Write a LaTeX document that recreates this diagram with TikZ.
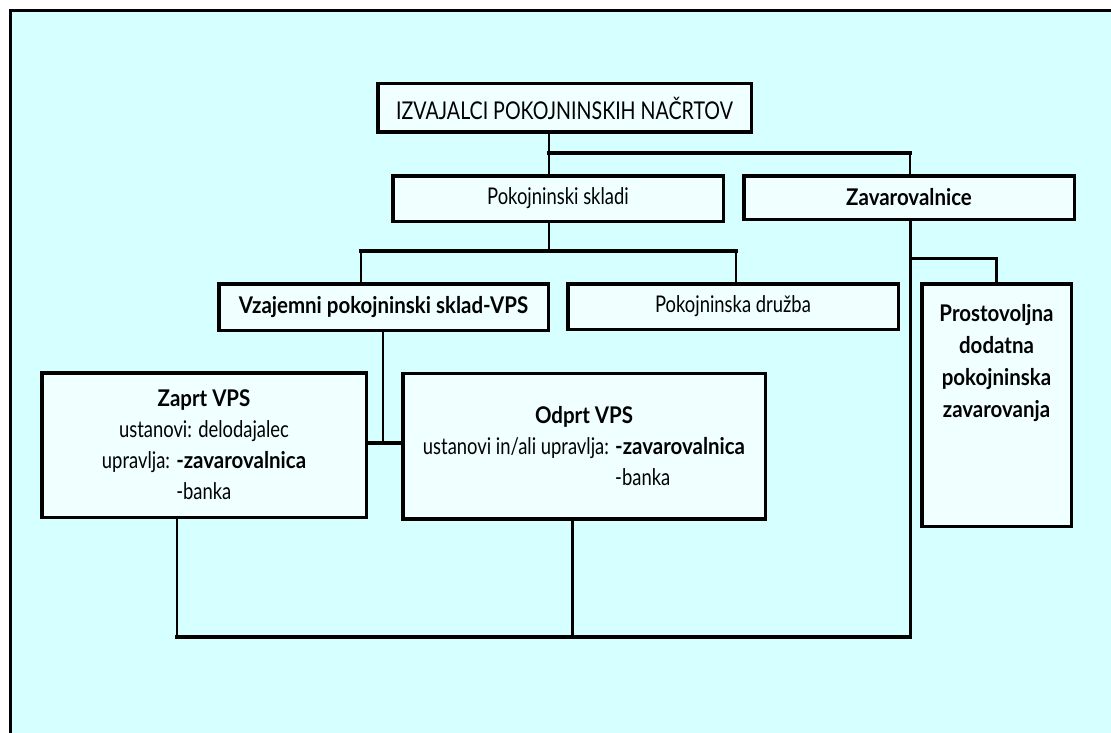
\documentclass[tikz,border=0pt]{standalone}
\usepackage{fontspec}
\setmainfont{Lato}[FakeStretch=0.8]
\newfontfamily\bfam{Lato}[FakeStretch=0.89]
\newcommand{\bsf}{\bfam\bfseries}
\definecolor{bgcyan}{RGB}{214,255,255}
\definecolor{boxfill}{RGB}{240,255,255}
\tikzset{
  box/.style={draw, line width=3.5pt, fill=boxfill, inner sep=0pt, align=center,
    font=\fontsize{23}{31}\selectfont},
  txt/.style={inner sep=0pt, align=center, font=\fontsize{23}{32}\selectfont\bsf},
  thinline/.style={line width=2.5pt, line cap=rect},
  midline/.style={line width=3pt, line cap=rect},
  thickline/.style={line width=4pt, line cap=rect}
}
\begin{document}
\begin{tikzpicture}[x=1pt,y=-1pt]
\useasboundingbox (0,0) rectangle (1111,733);
\fill[white] (0,0) rectangle (1111,733);
\fill[bgcyan] (10.5,10.5) rectangle (1111,733);
\draw[line width=3pt] (1111,10.5) -- (10.5,10.5) -- (10.5,733);

% boxes
\node[box, minimum width=373.5, minimum height=48.5, font=\fontsize{24.5}{31}\selectfont] (top) at (564.5,108) {IZVAJALCI POKOJNINSKIH NAČRTOV};
\node[box, minimum width=330.5, minimum height=45.5] (pks) at (558,198.5) {Pokojninski skladi};
\node[box, minimum width=330.5, minimum height=43.5] (zav) at (909,197.5) {\bsf Zavarovalnice};
\node[box, minimum width=329.5, minimum height=46.5] (vps) at (383.5,307) {\bsf Vzajemni pokojninski sklad-VPS};
\node[box, minimum width=330.5, minimum height=45.5] (druzba) at (733,306.5) {Pokojninska družba};
\node[box, minimum width=149.5, minimum height=242.5] (prost) at (996.5,405) {};
\node[txt, anchor=north] (prosttxt) at ([yshift=-22]prost.north) {Prostovoljna\\dodatna\\pokojninska\\zavarovanja};
\node[box, minimum width=324.5, minimum height=144.5] (zaprt) at (204,445) {{\bsf Zaprt VPS}\\ustanovi: delodajalec\\upravlja: {\bsf -zavarovalnica}\\\hphantom{upravlja: }\rlap{-banka}\hphantom{\bsf -zavarovalnica}};
\node[box, minimum width=362.5, minimum height=145.5] (odprt) at (584,446) {{\bsf Odprt VPS}\\ustanovi in/ali upravlja: {\bsf -zavarovalnica}\\\hphantom{ustanovi in/ali upravlja: }\rlap{-banka}\hphantom{\bsf -zavarovalnica}};

% junction points
\coordinate (a1) at (549,153);
\coordinate (a2) at (910,153);
\coordinate (b1) at (549,251);
\coordinate (b2) at (361,251);
\coordinate (b3) at (736,251);
\coordinate (c1) at (910,258);
\coordinate (c2) at (996,258);
\coordinate (c3) at (910,637);
\coordinate (d1) at (383,443);
\coordinate (e1) at (177,637);
\coordinate (e2) at (572.5,637);

% connectors
\draw[thinline] (top.south -| a1) -- (a1);
\draw[thickline] (a1) -- (a2);
\draw[thinline] (a1) -- (a1 |- pks.north);
\draw[thinline] (a2) -- (a2 |- zav.north);

\draw[thinline] (pks.south -| b1) -- (b1);
\draw[thickline] (b2) -- (b3);
\draw[thinline] (b2) -- (b2 |- vps.north);
\draw[thinline] (b3) -- (b3 |- druzba.north);

\draw[midline] (zav.south -| c1) -- (c3);
\draw[midline] (c1) -- (c2) -- (c2 |- prost.north);

\draw[thinline] (vps.south -| d1) -- (d1);
\draw[thickline] (zaprt.east |- d1) -- (odprt.west |- d1);

\draw[thinline] (zaprt.south -| e1) -- (e1);
\draw[thinline] (odprt.south -| e2) -- (e2);
\draw[thickline] (e1) -- (c3);
\end{tikzpicture}
\end{document}
